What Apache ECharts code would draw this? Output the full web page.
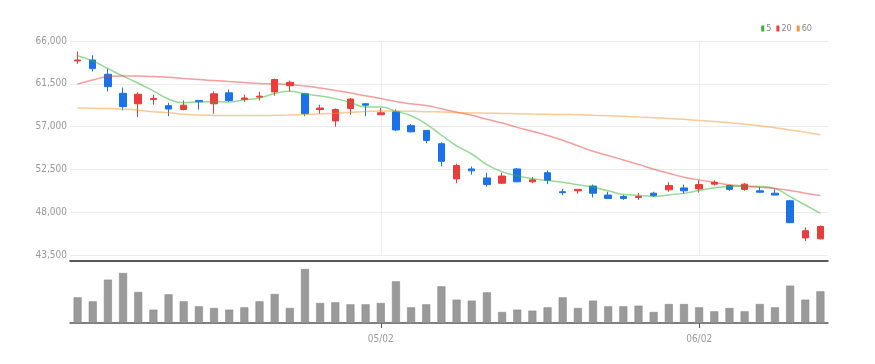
<!DOCTYPE html>
<html>
<head>
<meta charset="utf-8">
<title>chart</title>
<script src="https://cdn.jsdelivr.net/npm/echarts@6/dist/echarts.min.js"></script>
<style>
html, body { margin: 0; padding: 0; background: #fff; }
#main { width: 875px; height: 364px; }
</style>
</head>
<body>
<div id="main"></div>
<script>
var dates = ['04/04','04/05','04/06','04/07','04/08','04/11','04/12','04/13','04/14','04/15',
	'04/18','04/19','04/20','04/21','04/22','04/25','04/26','04/27','04/28','04/29',
	'05/02','05/03','05/04','05/06','05/09','05/10','05/11','05/12','05/13','05/16',
	'05/17','05/18','05/19','05/20','05/23','05/24','05/25','05/26','05/27','05/30',
	'05/31','06/02','06/03','06/07','06/08','06/09','06/10','06/13','06/14','06/15'];

var opens = [63900,64000,62500,60500,59400,59850,59200,58800,59750,59400,
	60550,59850,60100,60650,61300,60450,58800,57600,58900,59400,
	58250,58550,57100,56600,55200,51500,52550,51600,51050,52550,
	51200,52150,50150,50250,50750,49800,49650,49550,50000,50350,
	50550,50450,50950,50800,50400,50250,50000,49200,45300,45200];
var closes = [64000,63100,61200,59100,60400,59950,58850,59250,59600,60450,
	59750,60000,60200,61950,61650,58350,58950,58800,59900,59250,
	58450,56650,56450,55550,53350,52900,52350,50900,51800,51200,
	51400,51350,50050,50400,50000,49450,49450,49650,49750,50800,
	50250,50900,51150,50400,50950,50100,49800,46900,46050,46500];
var lows = [63600,62800,60700,58700,58000,59300,58100,58700,58800,58350,
	59600,59600,59750,60250,60700,58100,58350,57000,58250,58100,
	58250,56550,56400,55250,52800,51050,51950,50700,50950,51150,
	51050,50950,49800,49950,49550,49400,49300,49300,49600,50150,
	49950,50050,50800,50250,50250,50050,49800,46850,44950,45150];
var highs = [64900,64500,63100,61100,60600,60350,59500,59750,59750,60700,
	60900,60350,60650,62050,61850,60550,59300,58900,60000,59450,
	58950,58800,57250,56650,55350,53100,52800,52150,52150,52650,
	51700,52400,50450,50450,50900,50150,49800,50000,50150,51150,
	50900,51350,51350,50900,51050,50650,50400,49300,46400,46600];

// moving averages (5, 20, 60)
var ma5 = [64450,63900,63100,62300,61560,60750,59900,59510,59610,59620,
	59580,59810,60000,60470,60710,60430,60220,59940,59530,59050,
	59070,58610,58140,57270,56090,54980,54120,53010,52260,51830,
	51530,51330,51160,50880,50640,50250,49870,49790,49660,49820,
	49980,50270,50570,50700,50730,50700,50480,49630,48760,47870];
var ma20 = [61470,61890,62260,62330,62310,62260,62190,62070,61940,61840,
	61730,61630,61540,61490,61420,61260,61050,60800,60540,60235,
	59958,59635,59398,59220,58868,58515,58190,57773,57383,56920,
	56503,56070,55563,54985,54403,53958,53483,53025,52518,52095,
	51685,51398,51133,50875,50755,50615,50488,50288,50000,49765];
var ma60 = [58960,58940,58890,58830,58730,58570,58460,58310,58220,58180,
	58170,58170,58170,58190,58220,58270,58340,58410,58500,58590,
	58640,58640,58610,58570,58530,58490,58440,58410,58380,58350,
	58320,58300,58270,58250,58200,58150,58080,58010,57940,57850,
	57760,57650,57540,57410,57250,57090,56880,56650,56410,56150];

var volumes = [154000,130000,260000,300000,186000,80000,172000,130000,100000,90000,
	80000,94000,130000,174000,90000,324000,120000,124000,112000,112000,
	120000,250000,94000,112000,220000,140000,134000,184000,66000,80000,
	74000,94000,154000,90000,134000,100000,100000,104000,66000,114000,
	114000,94000,70000,90000,70000,114000,94000,224000,140000,190000];

var yTicks = { min: 43500, max: 66000, step: 4500 };

var upColor = '#eb3b3b';
var downColor = '#1b72e8';
var fontName = "'Liberation Sans Narrow', 'DejaVu Sans Condensed', 'Roboto', sans-serif";

// 月初的交易日才显示标签
function isMonthStart(index) {
	if(index == 0) return false;
	return dates[index].slice(0, 2) != dates[index - 1].slice(0, 2);
}

var kData = [];
for(var i = 0; i < dates.length; i++) {
	kData.push([opens[i], closes[i], lows[i], highs[i]]);
}

var myChart = echarts.init(document.getElementById('main'));

var option = {
	animation: false,
	legend: {
		right: 58,
		top: 19,
		itemWidth: 3,
		itemHeight: 6,
		itemGap: 5,
		icon: 'rect',
		textStyle: { color: '#888', fontSize: 9, fontFamily: fontName, padding: [0, 0, 0, -3] },
		data: [
			{ name: '5', itemStyle: { color: '#2fb52f', opacity: 1 } },
			{ name: '20', itemStyle: { color: '#ee3b3b', opacity: 1 } },
			{ name: '60', itemStyle: { color: '#f5962f', opacity: 1 } }
		]
	},
	grid: [
		{ left: 70, right: 47, top: 41, height: 214 },
		{ left: 70, right: 47, top: 261, height: 62 }
	],
	xAxis: [{
		type: 'category',
		gridIndex: 0,
		data: dates,
		boundaryGap: true,
		offset: 6,
		axisLine: { lineStyle: { color: '#222', width: 1.5 } },
		axisTick: { show: false, alignWithLabel: true },
		axisLabel: { show: false },
		splitLine: {
			show: true,
			alignWithLabel: true,
			interval: function(index) { return isMonthStart(index); },
			// 最后一条边界线不要
			lineStyle: { color: ['#ececec', '#ececec', 'rgba(0,0,0,0)'] }
		}
	}, {
		type: 'category',
		gridIndex: 1,
		data: dates,
		boundaryGap: true,
		axisLine: { lineStyle: { color: '#555', width: 1.5 } },
		axisTick: {
			show: true,
			alignWithLabel: true,
			length: 5,
			interval: function(index) { return isMonthStart(index); },
			lineStyle: { color: '#555' }
		},
		axisLabel: {
			interval: function(index) { return isMonthStart(index); },
			color: '#999',
			fontSize: 10,
			fontFamily: fontName,
			margin: 11
		},
		splitLine: { show: false }
	}],
	yAxis: [{
		type: 'value',
		gridIndex: 0,
		min: yTicks.min,
		max: yTicks.max,
		interval: yTicks.step,
		axisLine: { show: false },
		axisTick: { show: false },
		axisLabel: {
			color: '#999',
			fontSize: 10,
			fontFamily: fontName,
			margin: 3,
			formatter: function(v) { return echarts.format.addCommas(v); }
		},
		splitLine: { lineStyle: { color: '#ececec' } }
	}, {
		type: 'value',
		gridIndex: 1,
		min: 0,
		max: 372000,
		axisLine: { show: false },
		axisTick: { show: false },
		axisLabel: { show: false },
		splitLine: { show: false }
	}],
	series: [{
		name: 'K',
		type: 'candlestick',
		xAxisIndex: 0,
		yAxisIndex: 0,
		barWidth: 7,
		data: kData,
		itemStyle: {
			color: upColor,
			color0: downColor,
			borderColor: upColor,
			borderColor0: downColor,
			borderWidth: 1
		}
	}, {
		name: '5',
		type: 'line',
		data: ma5,
		smooth: true,
		showSymbol: false,
		color: '#2fb52f',
		lineStyle: { width: 1.5, opacity: 0.5 }
	}, {
		name: '20',
		type: 'line',
		data: ma20,
		smooth: true,
		showSymbol: false,
		color: '#ee3b3b',
		lineStyle: { width: 1.5, opacity: 0.5 }
	}, {
		name: '60',
		type: 'line',
		data: ma60,
		smooth: true,
		showSymbol: false,
		color: '#f5962f',
		lineStyle: { width: 1.5, opacity: 0.5 }
	}, {
		name: 'vol',
		type: 'bar',
		xAxisIndex: 1,
		yAxisIndex: 1,
		barWidth: 8,
		data: volumes,
		itemStyle: { color: '#9a9a9a', borderColor: '#858585', borderWidth: 0.5 }
	}]
};
myChart.setOption(option);
</script>
</body>
</html>
